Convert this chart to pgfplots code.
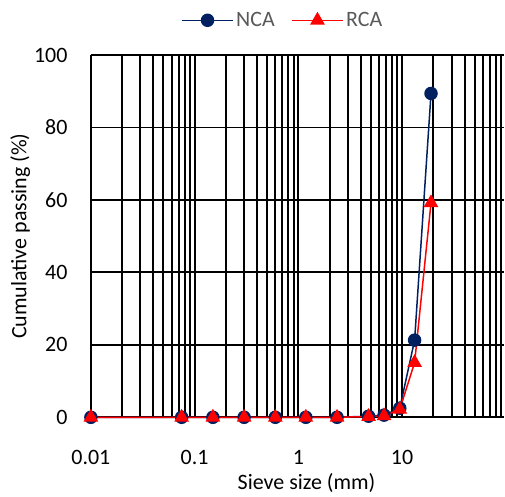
\documentclass[border=0pt]{standalone}
\usepackage{pgfplots}
\pgfplotsset{compat=1.18}
\usepackage{fontspec}
\setmainfont{Carlito}
\definecolor{ncablue}{RGB}{0,32,96}
\definecolor{rcared}{RGB}{255,0,0}
\definecolor{legendgray}{RGB}{89,89,89}
\newcommand{\lbl}{\fontsize{22}{26}\selectfont}

\begin{document}
\begin{tikzpicture}
\begin{axis}[
  xmode=log,
  scale only axis,
  width=414pt, height=363pt,
  xmin=0.01, xmax=96,
  ymin=0, ymax=100,
  clip=false,
  axis x line*=bottom, axis y line*=left,
  axis line style={black, line width=2pt},
  xtick={0.01,0.1,1,10},
  xticklabels={0.01,0.1,1,10},
  minor xtick={0.02,0.03,0.04,0.05,0.06,0.07,0.08,0.09,
               0.2,0.3,0.4,0.5,0.6,0.7,0.8,0.9,
               2,3,4,5,6,7,8,9,
               20,30,40,50,60,70,80,90},
  ytick={0,20,40,60,80,100},
  grid=both,
  major grid style={black, line width=2pt},
  minor grid style={black, line width=2pt},
  major tick length=0pt, minor tick length=0pt,
  font=\lbl,
  /pgf/number format/assume math mode=true,
  xticklabel style={anchor=center, yshift=-40pt},
  yticklabel style={xshift=-20pt},
  xlabel={Sieve size (mm)},
  ylabel={Cumulative passing (\%)},
  xlabel style={at={(axis description cs:0.522,-0.182)}, anchor=center},
  ylabel style={at={(axis description cs:-0.171,0.5)}, anchor=center},
  legend columns=2,
  legend style={draw=none, fill=none, at={(0.464,1.096)}, anchor=center,
    text=legendgray,
    /tikz/every even column/.append style={column sep=14pt}},
  legend image code/.code={
    \draw[mark repeat=2,mark phase=2] plot coordinates {(0pt,0pt)(26pt,0pt)(52pt,0pt)};},
]
% outer margins of the figure
\path (axis description cs:-0.22,1.152) -- (axis description cs:1,1.152);
\addplot[color=ncablue, line width=1.5pt, mark=*, mark size=6pt,
  mark options={fill=ncablue, solid}]
  coordinates {
  (0.01,0) (0.075,0) (0.15,0) (0.3,0) (0.6,0) (1.18,0) (2.36,0)
  (4.75,0.3) (6.7,0.6) (9.5,2.5) (13.2,21.3) (19,89.4)
  };
\addlegendentry{\lbl NCA}
\addplot[color=rcared, line width=1.5pt, mark=triangle*, mark size=7pt,
  mark options={fill=rcared, solid}]
  coordinates {
  (0.01,0) (0.075,0) (0.15,0) (0.3,0) (0.6,0) (1.18,0) (2.36,0)
  (4.75,0.2) (6.7,0.4) (9.5,2.2) (13.2,15.1) (19,59.2)
  };
\addlegendentry{\lbl RCA}
\end{axis}
\end{tikzpicture}
\end{document}
